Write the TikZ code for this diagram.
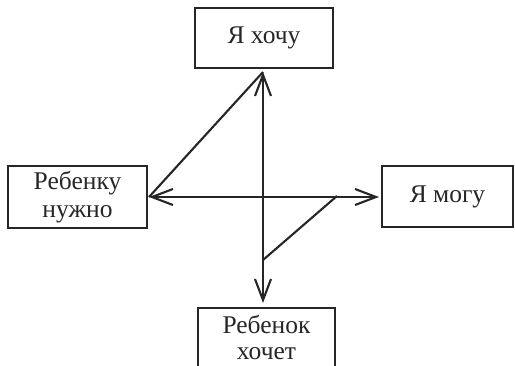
\documentclass[tikz,border=0pt]{standalone}
\usepackage{fontspec}
\setmainfont{Liberation Serif}
\usetikzlibrary{arrows.meta}
\definecolor{ink}{HTML}{262626}
\begin{document}
\begin{tikzpicture}[x=1pt,y=-1pt,
  box/.style={draw=ink,line width=2.3pt,text=ink,align=center,inner sep=0pt,
    font=\fontsize{25.5}{28}\selectfont},
  conn/.style={draw=ink,line width=2.1pt}]
\clip (0,0) rectangle (515,365);
\useasboundingbox (0,0) rectangle (515,365);
\node[box,minimum width=138pt,minimum height=60pt] (want) at (264,38) {Я хочу};
\node[box,minimum width=139pt,minimum height=62pt] (need) at (77.5,197) {Ребенку\\нужно};
\node[box,minimum width=131pt,minimum height=61pt] (can) at (447.5,196.5) {Я могу};
\node[box,minimum width=137pt,minimum height=90pt,anchor=north] (child) at (266.5,307) {};
\node[text=ink,align=center,font=\fontsize{25.5}{26}\selectfont,anchor=base] (childtext) at (266.5,359.5) {Ребенок\\хочет};
\coordinate (vtop) at (263,72);
\coordinate (vbot) at (263,303);
\coordinate (hl) at (149,197);
\coordinate (hr) at (379,197);
\coordinate (dA) at (337,196);
\coordinate (dB) at (263,260);
\draw[conn,{Straight Barb[length=21pt,width=16pt]}-{Straight Barb[length=21pt,width=16pt]}] (vtop) -- (vbot);
\draw[conn,{Straight Barb[length=21pt,width=16pt]}-{Straight Barb[length=21pt,width=16pt]}] (hl) -- (hr);
\draw[conn] (vtop) -- (hl);
\draw[conn] (dA) -- (dB);
\end{tikzpicture}
\end{document}
